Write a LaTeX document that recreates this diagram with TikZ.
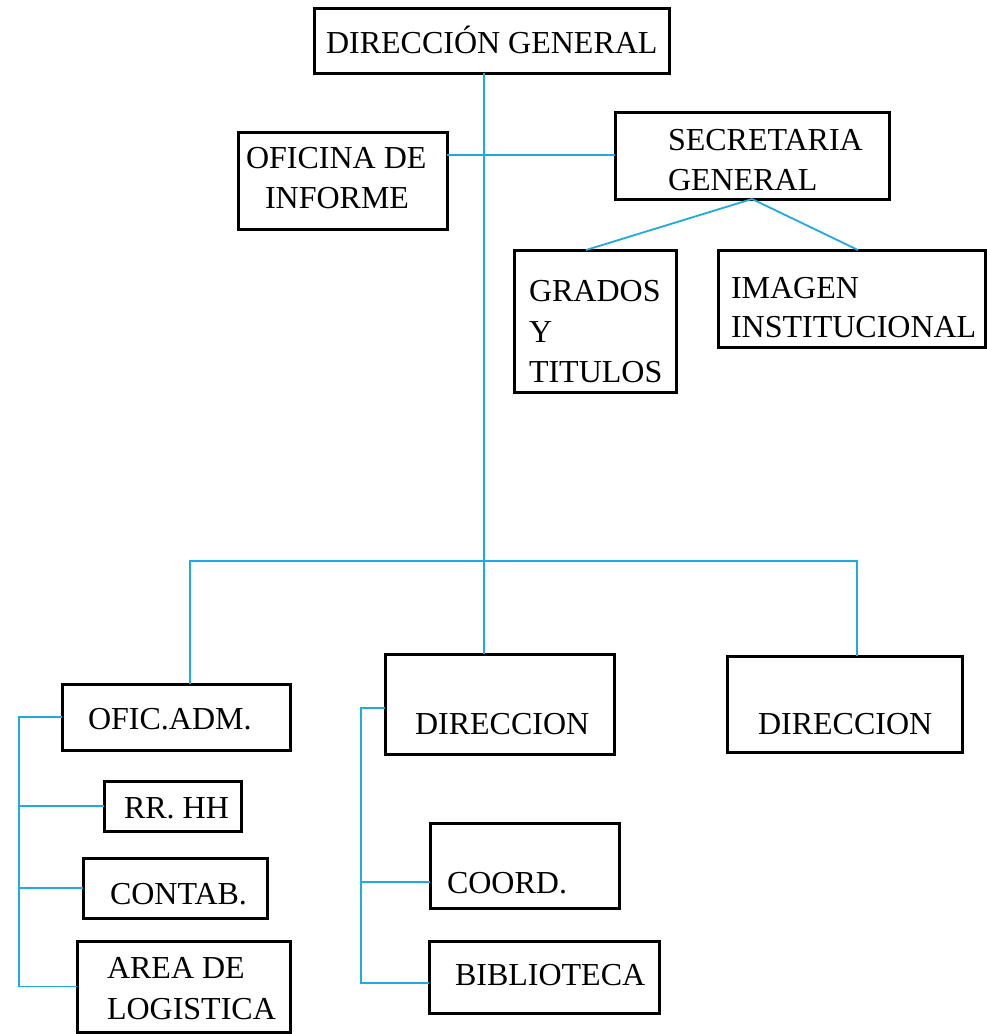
\documentclass[tikz,border=0pt]{standalone}
\usepackage{fontspec}
\setmainfont{Liberation Serif}
\definecolor{lineblue}{RGB}{30,170,230}
\begin{document}
\begin{tikzpicture}[x=1pt,y=-1pt,
  box/.style={draw=black,line width=3pt,inner sep=0pt,outer sep=0pt},
  txt/.style={anchor=base west,inner sep=0pt,outer sep=0pt,font=\fontsize{32}{40}\selectfont},
  conn/.style={draw=lineblue,line width=1.8pt}]
\useasboundingbox (0,0) rectangle (987,1034);
% boxes
\node[box,minimum width=355pt,minimum height=65pt] (dg) at (491.5,40.5) {};
\node[box,minimum width=209pt,minimum height=97pt] (oi) at (342.5,180.5) {};
\node[box,minimum width=274pt,minimum height=87pt] (sg) at (752,155.5) {};
\node[box,minimum width=162pt,minimum height=142pt] (gt) at (595,321) {};
\node[box,minimum width=267pt,minimum height=97pt] (ii) at (851.5,298.5) {};
\node[box,minimum width=228pt,minimum height=66pt] (oa) at (176,717) {};
\node[box,minimum width=137pt,minimum height=50pt] (rh) at (172.5,806) {};
\node[box,minimum width=184pt,minimum height=60pt] (ct) at (175,888) {};
\node[box,minimum width=213pt,minimum height=91pt] (al) at (183.5,986.5) {};
\node[box,minimum width=229pt,minimum height=100pt] (d1) at (499.5,704) {};
\node[box,minimum width=189pt,minimum height=85pt] (co) at (524.5,865.5) {};
\node[box,minimum width=230pt,minimum height=72pt] (bi) at (544,977) {};
\node[box,minimum width=235pt,minimum height=96pt] (d2) at (844.5,704) {};
% texts
\node[txt] (tdg) at (326,53) {DIRECCIÓN GENERAL};
\node[txt] (toi1) at (246,168) {OFICINA DE};
\node[txt] (toi2) at (265,208) {INFORME};
\node[txt] (tsg1) at (668,150) {SECRETARIA};
\node[txt] (tsg2) at (668,190) {GENERAL};
\node[txt] (tgt1) at (529,301) {GRADOS};
\node[txt] (tgt2) at (529,342) {Y};
\node[txt] (tgt3) at (529,382) {TITULOS};
\node[txt] (tii1) at (731,298) {IMAGEN};
\node[txt] (tii2) at (731,337) {INSTITUCIONAL};
\node[txt] (toa) at (88,729) {OFIC.ADM.};
\node[txt] (trh) at (124,818) {RR. HH};
\node[txt] (tct) at (110,904) {CONTAB.};
\node[txt] (tal1) at (107,978) {AREA DE};
\node[txt] (tal2) at (107,1019) {LOGISTICA};
\node[txt] (td1) at (415,734) {DIRECCION};
\node[txt] (tco) at (447,893) {COORD.};
\node[txt] (tbi) at (455,985) {BIBLIOTECA};
\node[txt] (td2) at (758,734) {DIRECCION};
% connector helper coordinates
\coordinate (m) at (484,0);
\coordinate (hy) at (0,155);
\coordinate (gx) at (586,0);
\coordinate (ix) at (858,0);
\coordinate (bl) at (190,561);
\coordinate (br) at (857,561);
\coordinate (lb) at (19,0);
\coordinate (mb) at (361,0);
\coordinate (d1y) at (0,708);
\coordinate (coy) at (0,882);
\coordinate (biy) at (0,983);
% connectors
\draw[conn] (dg.south -| m) -- (d1.north -| m);
\draw[conn] (oi.east |- hy) -- (sg.west |- hy);
\draw[conn] (sg.south) -- (gt.north -| gx);
\draw[conn] (sg.south) -- (ii.north -| ix);
\draw[conn] (oa.north -| bl) -- (bl) -- (br) -- (d2.north -| br);
\draw[conn] (oa.west) -- (oa.west -| lb) -- (al.west -| lb) -- (al.west);
\draw[conn] (rh.west -| lb) -- (rh.west);
\draw[conn] (ct.west -| lb) -- (ct.west);
\draw[conn] (d1.west |- d1y) -- (mb |- d1y) -- (mb |- biy) -- (bi.west |- biy);
\draw[conn] (mb |- coy) -- (co.west |- coy);
\end{tikzpicture}
\end{document}
